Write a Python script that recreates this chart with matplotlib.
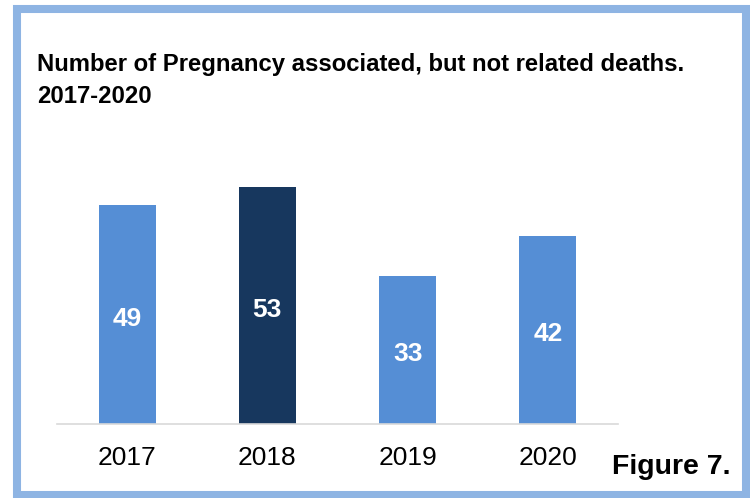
import matplotlib
matplotlib.use("Agg")
import matplotlib.pyplot as plt
from matplotlib.patches import Rectangle
from matplotlib.transforms import offset_copy

plt.rcParams['font.family'] = ['Liberation Sans', 'DejaVu Sans']

years = ["2017", "2018", "2019", "2020"]
deaths = [49, 53, 33, 42]
bar_colors = ["#558ED5", "#17375E", "#558ED5", "#558ED5"]
title = "Number of Pregnancy associated, but not related deaths.\n2017-2020"
figure_label = "Figure 7."

W, H = 750, 498
fig = plt.figure(figsize=(W / 100, H / 100), dpi=100)

# frame
fig.patches.append(Rectangle((17 / W, 1 - 495 / H), (746 - 17) / W, (495 - 9) / H,
                             transform=fig.transFigure, fill=False,
                             edgecolor="#8EB4E3", linewidth=5.8))

ax = fig.add_axes([57 / W, 74 / H, (618 - 57) / W, (424 - 155.8) / H])
x = range(len(years))
bars = ax.bar(x, deaths, width=0.405, color=bar_colors)
ax.set_xlim(-0.5, 3.5)
ax.set_ylim(0, 60)
lbl_tr = offset_copy(ax.transData, fig=fig, x=0, y=-3, units="points")
for b, v in zip(bars, deaths):
    ax.text(b.get_x() + b.get_width() / 2, v / 2, str(v), ha="center", va="center",
            color="white", fontsize=19, fontweight="bold", transform=lbl_tr)

ax.set_xticks(list(x))
ax.set_xticklabels(years, fontsize=19, color="#000000")
ax.tick_params(axis="x", length=0, pad=16)
ax.set_yticks([])
for s in ["top", "right", "left"]:
    ax.spines[s].set_visible(False)
ax.spines["bottom"].set_color("#D9D9D9")
ax.spines["bottom"].set_linewidth(1.2)

fig.text(37 / W, 1 - 53 / H, title, ha="left", va="top", fontsize=17.2,
         fontweight="bold", linespacing=1.5)
fig.text(612 / W, 1 - 474 / H, figure_label, ha="left", va="baseline",
         fontsize=20.5, fontweight="bold")

fig.savefig("out.png", dpi=100)
